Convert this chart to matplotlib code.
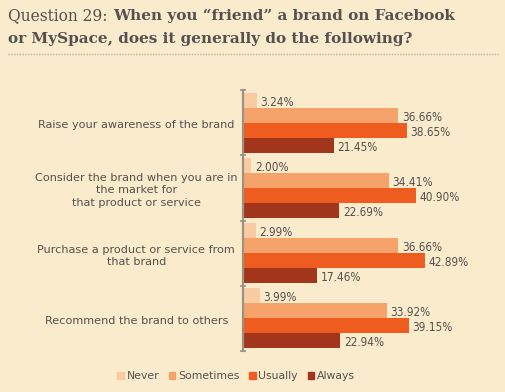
import matplotlib.pyplot as plt
import numpy as np

categories = [
    "Raise your awareness of the brand",
    "Consider the brand when you are in\nthe market for\nthat product or service",
    "Purchase a product or service from\nthat brand",
    "Recommend the brand to others",
]
series = ["Never", "Sometimes", "Usually", "Always"]
never = [3.24, 2.00, 2.99, 3.99]
sometimes = [36.66, 34.41, 36.66, 33.92]
usually = [38.65, 40.90, 42.89, 39.15]
always = [21.45, 22.69, 17.46, 22.94]
colors = ["#F9CBA2", "#F5A26B", "#EE5C1F", "#A1361D"]

bg = "#FBEBCD"
txt = "#555150"

fig = plt.figure(figsize=(5.05, 3.92), dpi=100, facecolor=bg)

# title, slab-ish serif
fig.text(8 / 505, 1 - 16 / 392, "Question 29:", fontsize=11.2, family="DejaVu Serif",
         color=txt, va="center", ha="left")
fig.text(113 / 505, 1 - 16 / 392, "When you \u201cfriend\u201d a brand on Facebook",
         fontsize=11, family="DejaVu Serif", weight="bold", color=txt, va="center")
fig.text(8 / 505, 1 - 39 / 392, "or MySpace, does it generally do the following?",
         fontsize=11, family="DejaVu Serif", weight="bold", color=txt, va="center")
fig.add_artist(plt.Line2D([8 / 505, 498 / 505], [1 - 54 / 392, 1 - 54 / 392],
                          color="#BDB3A3", lw=1, ls=(0, (1, 1))))

ax = fig.add_axes([243 / 505, 1 - 351 / 392, 254 / 505, 261 / 392])
ax.set_facecolor(bg)

data = [never, sometimes, usually, always]
y = np.arange(len(categories))
h = 0.23
offsets = [-1.5 * h, -0.5 * h, 0.5 * h, 1.5 * h]
for vals, off, c, name in zip(data, offsets, colors, series):
    bars = ax.barh(y + off, vals, height=h, color=c, label=name)
    for b, v in zip(bars, vals):
        ax.text(v + 0.9, b.get_y() + b.get_height() / 2 + 0.03, f"{v:.2f}%",
                va="center", ha="left", fontsize=8.5, color=txt,
                family="DejaVu Sans", stretch="condensed")

ax.set_xlim(0, 60)
ax.set_ylim(3.5, -0.5)
for s in ["top", "right", "bottom"]:
    ax.spines[s].set_visible(False)
ax.spines["left"].set_color("#9C9283")
ax.spines["left"].set_linewidth(1.6)
ax.set_xticks([])
ax.set_yticks(np.arange(-0.5, 4, 1))
ax.set_yticklabels([])
ax.tick_params(axis="y", direction="inout", length=5, width=1.2, color="#9C9283")

# category labels, centred left of the axis
for yi, label in zip(y, categories):
    ax.text(-25.2, yi + 0.04, label, ha="center", va="center", fontsize=8.1,
            color=txt, linespacing=1.3, clip_on=False)

handles = [plt.Rectangle((0, 0), 1, 1, color=c) for c in colors]
fig.legend(handles, series, loc="center", bbox_to_anchor=(236 / 505, 1 - 376 / 392),
           ncol=4, frameon=False, fontsize=7.8, handlelength=0.6, handleheight=0.6,
           handletextpad=0.25, columnspacing=0.9, labelcolor=txt)

fig.savefig("out.png", dpi=100, facecolor=bg)
